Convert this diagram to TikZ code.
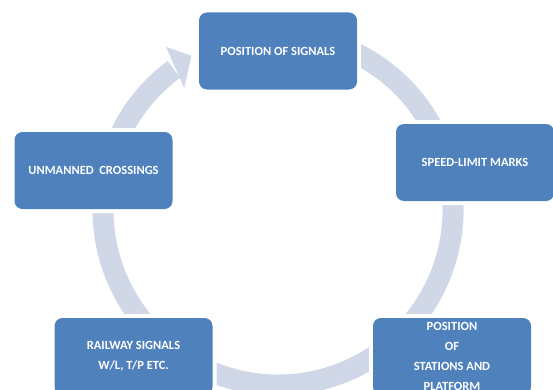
\documentclass[tikz,border=0pt]{standalone}
\usepackage{fontspec}
\setmainfont{Carlito}
\definecolor{boxblue}{RGB}{79,129,189}
\definecolor{ringblue}{RGB}{208,216,232}

\begin{document}
\begin{tikzpicture}[x=1pt, y=1pt,
        stepbox/.style={rectangle, rounded corners=8pt, fill=boxblue,
            minimum width=158pt, minimum height=77pt, inner sep=0pt,
            text=white, align=center,
            font=\fontsize{12.5}{20}\selectfont\bfseries,
            preaction={draw=white, line width=8pt}},
        ring/.style={draw=ringblue, line width=21pt},
        ]
        \useasboundingbox (0,0) rectangle (553,389);

        % Ring with its arrow head
        \coordinate (hub) at (278,179);
        \begin{scope}[shift={(hub)}]
            \draw[ring] (112:175) arc[start angle=112, end angle=-233.5, radius=175];
            \fill[ringblue] (124.5:198) -- (119.3:177) -- (127.5:154) -- cycle;
        \end{scope}

        % Nodes
        \node[stepbox] (signals)  at (278,338)   {POSITION OF SIGNALS};
        \node[stepbox] (speed)    at (475,226.5) {SPEED-LIMIT MARKS};
        \node[stepbox] (stations) at (452,32.5)  {POSITION\\OF\\STATIONS AND\\PLATFORM};
        \node[stepbox] (railway)  at (133.5,32.5) {RAILWAY SIGNALS\\W/L, T/P ETC.};
        \node[stepbox] (crossing) at (93.5,218.5) {UNMANNED\ \ CROSSINGS};

    \end{tikzpicture}
\end{document}
